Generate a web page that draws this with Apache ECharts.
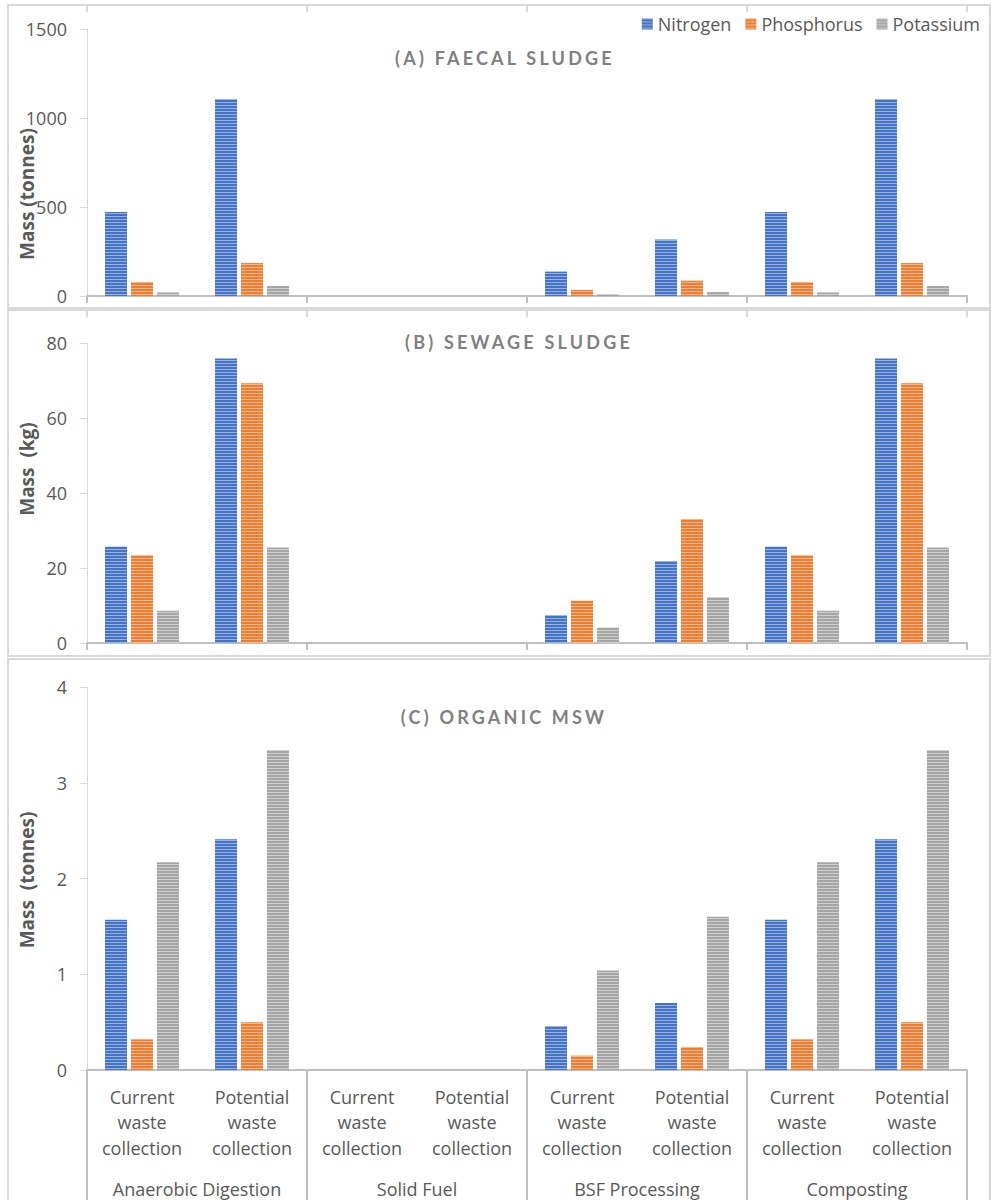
<!DOCTYPE html>
<html>
<head>
<meta charset="utf-8">
<script src="https://cdn.jsdelivr.net/npm/echarts@6/dist/echarts.min.js"></script>
<style>
  html, body { margin: 0; padding: 0; background: #fff; }
  #chart { width: 997px; height: 1200px; }
  text[style*="Lato"], text[font-family*="Lato"] { letter-spacing: 3.2px; }
</style>
</head>
<body>
<div id="chart"></div>
<script>
// ---- data ----
const categories = [
  'Current\nwaste\ncollection', 'Potential\nwaste\ncollection',
  'Current\nwaste\ncollection', 'Potential\nwaste\ncollection',
  'Current\nwaste\ncollection', 'Potential\nwaste\ncollection',
  'Current\nwaste\ncollection', 'Potential\nwaste\ncollection'
];
const groups = ['Anaerobic Digestion', 'Solid Fuel', 'BSF Processing', 'Composting'];
const seriesNames = ['Nitrogen', 'Phosphorus', 'Potassium'];

const faecalNitrogen   = [472, 1107, 0, 0, 137, 318, 472, 1107];
const faecalPhosphorus = [79, 185, 0, 0, 34, 86, 79, 185];
const faecalPotassium  = [20, 56, 0, 0, 10, 22, 20, 56];

const sewageNitrogen   = [25.7, 75.9, 0, 0, 7.4, 21.9, 25.7, 75.9];
const sewagePhosphorus = [23.4, 69.3, 0, 0, 11.3, 33.1, 23.4, 69.3];
const sewagePotassium  = [8.6, 25.5, 0, 0, 4.1, 12.2, 8.6, 25.5];

const mswNitrogen   = [1.57, 2.41, 0, 0, 0.46, 0.70, 1.57, 2.41];
const mswPhosphorus = [0.32, 0.50, 0, 0, 0.15, 0.24, 0.32, 0.50];
const mswPotassium  = [2.17, 3.34, 0, 0, 1.04, 1.60, 2.17, 3.34];

const panelTitles = ['(A) FAECAL SLUDGE', '(B) SEWAGE SLUDGE', '(C) ORGANIC MSW'];
const axisTitles = ['Mass (tonnes)', 'Mass  (kg)', 'Mass  (tonnes)'];
const yMax = [1500, 80, 4];
const yInterval = [500, 20, 1];

// ---- style ----
const FONT = 'Open Sans';
const TXT = '#595959';
const colors = ['#4472C4', '#ED7D31', '#A5A5A5'];
const panels = [
  { top: 29, height: 267, boxTop: 5, boxBottom: 308 },
  { top: 343, height: 300, boxTop: 310, boxBottom: 656 },
  { top: 687, height: 383, boxTop: 659, boxBottom: 1215 }
];
const dataSets = [
  [faecalNitrogen, faecalPhosphorus, faecalPotassium],
  [sewageNitrogen, sewagePhosphorus, sewagePotassium],
  [mswNitrogen, mswPhosphorus, mswPotassium]
];
const titleX = [505, 519, 504];
const titleY = [58, 342, 717];
const axisTitleY = [194, 469, 880];

const grids = [], xAxes = [], yAxes = [], series = [], graphics = [];

panels.forEach((p, i) => {
  const isLast = i === panels.length - 1;
  grids.push({ left: 87, right: 30, top: p.top, height: p.height });
  // main category axis (8 categories)
  xAxes.push({
    type: 'category', gridIndex: i, data: categories, position: 'bottom',
    axisLine: { show: false }, axisTick: { show: false },
    axisLabel: {
      show: isLast, interval: 0, color: TXT, fontFamily: FONT, fontSize: 18,
      lineHeight: 25.5, margin: 14
    }
  });
  // group axis (bottom)
  xAxes.push({
    type: 'category', gridIndex: i, data: groups, position: 'bottom',
    axisLine: { show: true, lineStyle: { color: '#bfbfbf', width: 2 } },
    axisTick: { show: true, length: isLast ? 140 : 7, lineStyle: { color: '#bfbfbf', width: 2 } },
    axisLabel: {
      show: isLast, interval: 0, color: TXT, fontFamily: FONT, fontSize: 18,
      lineHeight: 20, margin: 109
    }
  });
  // group ticks at the top of panel (A and B)
  if (!isLast) {
    xAxes.push({
      type: 'category', gridIndex: i, data: groups, position: 'top',
      offset: p.top - p.boxTop,
      axisLine: { show: false },
      axisTick: { show: true, inside: true, length: 7, lineStyle: { color: '#d9d9d9', width: 2 } },
      axisLabel: { show: false }
    });
  }
  yAxes.push({
    type: 'value', gridIndex: i, min: 0, max: yMax[i], interval: yInterval[i],
    axisLine: { show: true, lineStyle: { color: '#d9d9d9', width: 1 } },
    axisTick: { show: true, length: 7, lineStyle: { color: '#d9d9d9' } },
    splitLine: { show: false },
    axisLabel: {
      color: TXT, fontFamily: FONT, fontSize: 18, margin: 20,
      formatter: v => String(v)
    }
  });
  const xIndex = xAxes.findIndex(a => a.gridIndex === i);
  dataSets[i].forEach((d, k) => {
    series.push({
      name: seriesNames[k], type: 'bar', xAxisIndex: xIndex, yAxisIndex: i,
      data: d, barWidth: 22, barGap: '18%',
      itemStyle: {
        color: colors[k],
        decal: {
          symbol: 'rect', symbolSize: 1, dashArrayX: [1, 0], dashArrayY: [1, 2],
          color: 'rgba(255,255,255,0.45)', rotation: 0
        }
      }
    });
  });
  // panel frame
  graphics.push({
    type: 'rect', z: -1, silent: true,
    shape: { x: 8, y: p.boxTop, width: 982, height: p.boxBottom - p.boxTop },
    style: { fill: null, stroke: '#d9d9d9', lineWidth: 2 }
  });
  // panel title
  graphics.push({
    type: 'text', x: titleX[i], y: titleY[i], silent: true,
    style: {
      text: panelTitles[i], fill: '#808080', font: 'bold 18px Lato',
      textAlign: 'center', textVerticalAlign: 'middle'
    }
  });
  // y axis title
  graphics.push({
    type: 'text', x: 27, y: axisTitleY[i], rotation: Math.PI / 2, silent: true,
    style: {
      text: axisTitles[i], fill: TXT, font: 'bold 19px "Open Sans"',
      textAlign: 'center', textVerticalAlign: 'middle'
    }
  });
});

const chart = echarts.init(document.getElementById('chart'), null, { renderer: 'svg' });
chart.setOption({
  animation: false,
  backgroundColor: '#ffffff',
  legend: {
    data: seriesNames, right: 12, top: 10, itemWidth: 11, itemHeight: 11, itemGap: 14,
    icon: 'rect',
    textStyle: { color: TXT, fontFamily: FONT, fontSize: 18 }
  },
  grid: grids,
  xAxis: xAxes,
  yAxis: yAxes,
  series: series,
  graphic: graphics
});
</script>
</body>
</html>
